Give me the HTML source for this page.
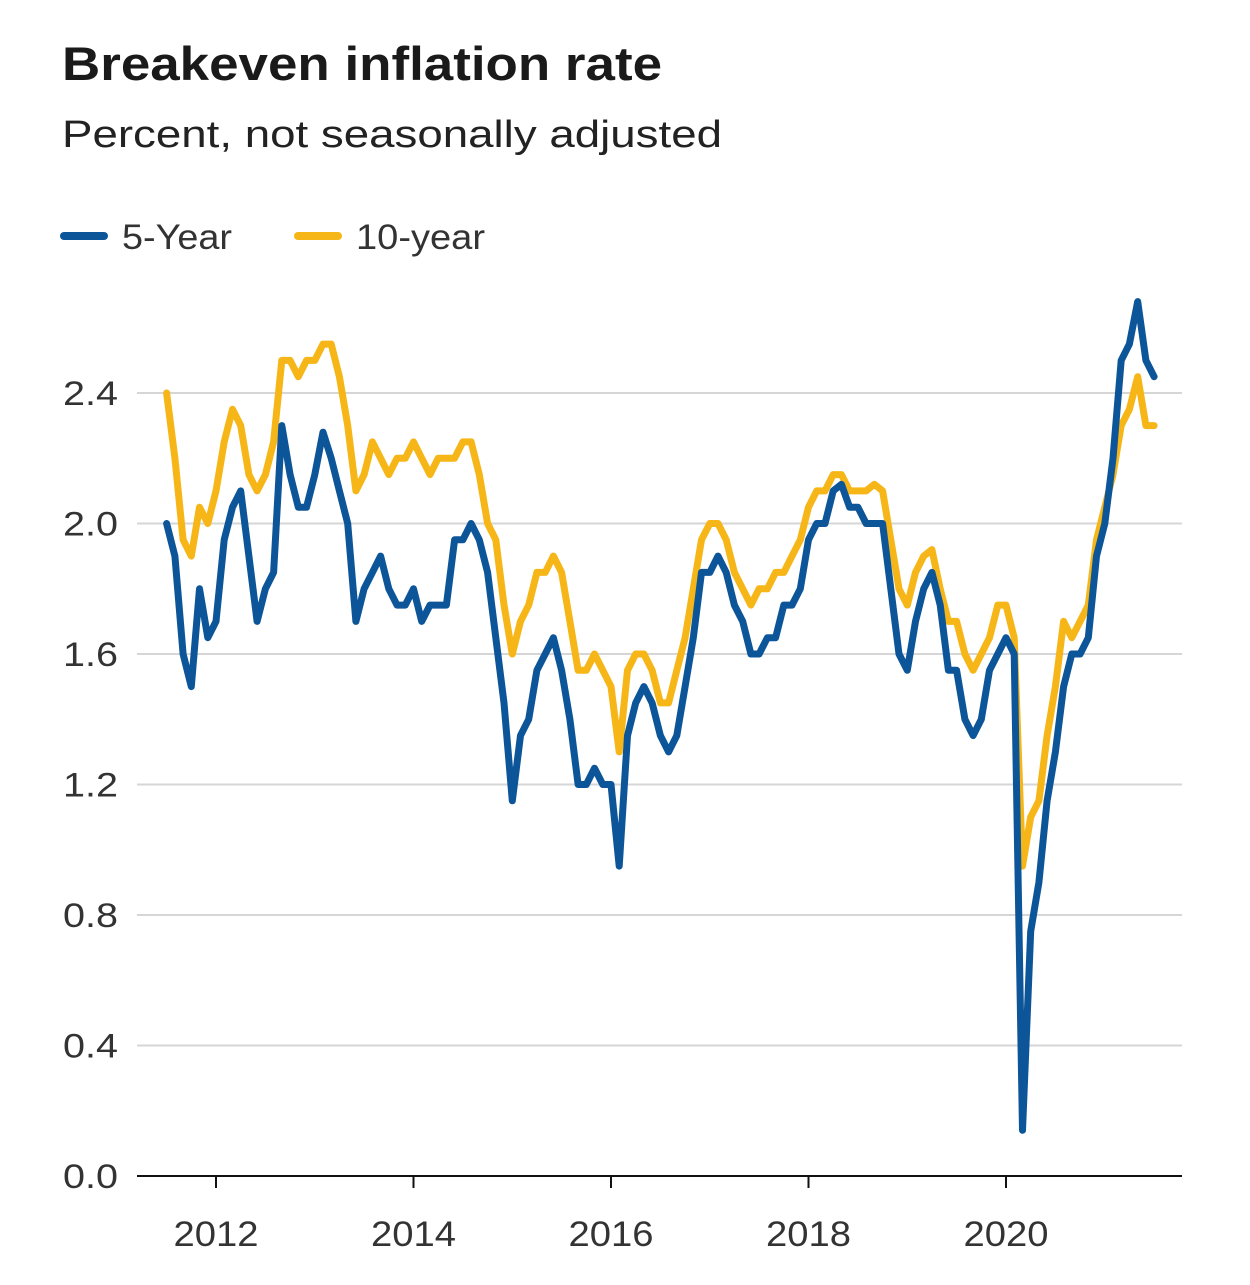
<!DOCTYPE html>
<html><head><meta charset="utf-8"><style>
body{margin:0;background:#fff;width:1250px;height:1280px;overflow:hidden;font-family:"Liberation Sans",sans-serif}
</style></head><body>
<svg id="chart" width="1250" height="1280" xmlns="http://www.w3.org/2000/svg">
<text x="62" y="80" font-size="47" font-weight="bold" fill="#1a1a1a" textLength="600" lengthAdjust="spacingAndGlyphs">Breakeven inflation rate</text>
<text x="62" y="147" font-size="38" fill="#222" textLength="660" lengthAdjust="spacingAndGlyphs">Percent, not seasonally adjusted</text>
<g>
<line x1="64" y1="236" x2="104" y2="236" stroke="#0d5599" stroke-width="8" stroke-linecap="round"/>
<text x="122" y="249" font-size="35" fill="#333" textLength="110" lengthAdjust="spacingAndGlyphs">5-Year</text>
<line x1="298" y1="236" x2="338" y2="236" stroke="#f6b617" stroke-width="8" stroke-linecap="round"/>
<text x="356" y="249" font-size="35" fill="#333" textLength="129" lengthAdjust="spacingAndGlyphs">10-year</text>
</g>
<g id="grid"></g><g id="series"></g><g id="axes"></g>
</svg>
<script>
const yTicks=[0.0,0.4,0.8,1.2,1.6,2.0,2.4];
const xTicks=[2012,2014,2016,2018,2020];
const startYear=2011.5;
const fiveYear=[2.0,1.9,1.6,1.5,1.8,1.65,
1.7,1.95,2.05,2.1,1.9,1.7,1.8,1.85,2.3,2.15,2.05,2.05,
2.15,2.28,2.2,2.1,2.0,1.7,1.8,1.85,1.9,1.8,1.75,1.75,
1.8,1.7,1.75,1.75,1.75,1.95,1.95,2.0,1.95,1.85,1.65,1.45,
1.15,1.35,1.4,1.55,1.6,1.65,1.55,1.4,1.2,1.2,1.25,1.2,
1.2,0.95,1.35,1.45,1.5,1.45,1.35,1.3,1.35,1.5,1.65,1.85,
1.85,1.9,1.85,1.75,1.7,1.6,1.6,1.65,1.65,1.75,1.75,1.8,
1.95,2.0,2.0,2.1,2.12,2.05,2.05,2.0,2.0,2.0,1.8,1.6,
1.55,1.7,1.8,1.85,1.75,1.55,1.55,1.4,1.35,1.4,1.55,1.6,
1.65,1.6,0.14,0.75,0.9,1.15,1.3,1.5,1.6,1.6,1.65,1.9,
2.0,2.2,2.5,2.55,2.68,2.5,2.45];
const tenYear=[2.4,2.2,1.95,1.9,2.05,2.0,
2.1,2.25,2.35,2.3,2.15,2.1,2.15,2.25,2.5,2.5,2.45,2.5,
2.5,2.55,2.55,2.45,2.3,2.1,2.15,2.25,2.2,2.15,2.2,2.2,
2.25,2.2,2.15,2.2,2.2,2.2,2.25,2.25,2.15,2.0,1.95,1.75,
1.6,1.7,1.75,1.85,1.85,1.9,1.85,1.7,1.55,1.55,1.6,1.55,
1.5,1.3,1.55,1.6,1.6,1.55,1.45,1.45,1.55,1.65,1.8,1.95,
2.0,2.0,1.95,1.85,1.8,1.75,1.8,1.8,1.85,1.85,1.9,1.95,
2.05,2.1,2.1,2.15,2.15,2.1,2.1,2.1,2.12,2.1,1.95,1.8,
1.75,1.85,1.9,1.92,1.8,1.7,1.7,1.6,1.55,1.6,1.65,1.75,
1.75,1.65,0.95,1.1,1.15,1.35,1.5,1.7,1.65,1.7,1.75,1.95,
2.05,2.15,2.3,2.35,2.45,2.3,2.3];
const NS="http://www.w3.org/2000/svg";
const X0=137,X1=1182;
function xScale(yr){return 216+(yr-2012)*98.75;}
function yScale(v){return 1176-v*326.25;}
function mk(tag,attrs,parent){const e=document.createElementNS(NS,tag);for(const k in attrs)e.setAttribute(k,attrs[k]);parent.appendChild(e);return e;}
const grid=document.getElementById('grid'),axes=document.getElementById('axes'),series=document.getElementById('series');
yTicks.forEach(v=>{
  if(v>0){const l=mk('line',{x1:X0,x2:X1,y1:yScale(v),y2:yScale(v),stroke:'#d6d6d6','stroke-width':2},grid);
  
  }
  const t=mk('text',{x:118,y:yScale(v)+12,'font-size':34,fill:'#333','text-anchor':'end',textLength:55,lengthAdjust:'spacingAndGlyphs'},axes);
  t.textContent=v.toFixed(1);
  
  
});
const ax=mk('line',{x1:X0,x2:X1,y1:1176,y2:1176,stroke:'#111','stroke-width':2},axes);


xTicks.forEach(yr=>{
  const tk=mk('line',{x1:xScale(yr),x2:xScale(yr),y1:1176,y2:1188,stroke:'#111','stroke-width':2},axes);
  
  
  const t=mk('text',{x:xScale(yr),y:1246,'font-size':35,fill:'#333','text-anchor':'middle',textLength:85,lengthAdjust:'spacingAndGlyphs'},axes);
  t.textContent=yr;
  
  
});
function draw(vals,color,name){
  const d=vals.map((v,i)=>(i?'L':'M')+xScale(startYear+i/12).toFixed(1)+','+yScale(v).toFixed(1)).join('');
  const p=mk('path',{d:d,fill:'none',stroke:color,'stroke-width':7,'stroke-linejoin':'round','stroke-linecap':'round'},series);
  
  
}
draw(tenYear,'#f6b617','line-10-year');
draw(fiveYear,'#0d5599','line-5-year');
</script>
</body></html>
